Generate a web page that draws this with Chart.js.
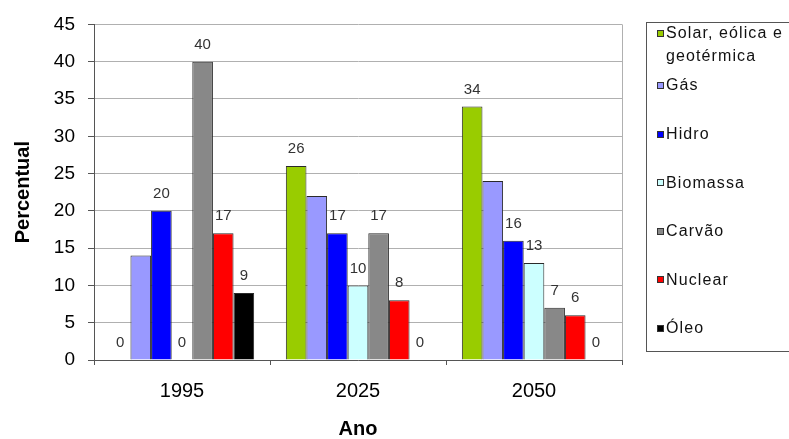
<!DOCTYPE html>
<html lang="pt">
<head>
<meta charset="utf-8">
<title>Percentual por fonte de energia</title>
<script src="https://cdn.jsdelivr.net/npm/chart.js@4/dist/chart.umd.min.js"></script>
<style>
  html, body { margin: 0; padding: 0; background: #fff; }
  #box { width: 789px; height: 439px; position: relative; overflow: hidden; }
</style>
</head>
<body>
<div id="box"><canvas id="grafico"></canvas></div>
<script>
// Anos e participação (%) de cada fonte
const anos = ['1995', '2025', '2050'];
const fontes = ['Solar, eólica e geotérmica', 'Gás', 'Hidro', 'Biomassa', 'Carvão', 'Nuclear', 'Óleo'];
const solar    = [0, 26, 34];
const gas      = [14, 22, 24];
const hidro    = [20, 17, 16];
const biomassa = [0, 10, 13];
const carvao   = [40, 17, 7];
const nuclear  = [17, 8, 6];
const oleo     = [9, 0, 0];
const marcasY  = [0, 5, 10, 15, 20, 25, 30, 35, 40, 45];
// séries sem rótulo de valor sobre as barras
const semRotulo = ['Gás'];

const valores = [solar, gas, hidro, biomassa, carvao, nuclear, oleo];
const cores = ['#99cc00', '#9999ff', '#0000ff', '#ccffff', '#888888', '#ff0000', '#000000'];
const FAMILIA = '"Liberation Sans", Arial, sans-serif';

// Rótulos de valor acima de cada barra
const rotulosValor = {
  id: 'rotulosValor',
  afterDatasetsDraw(chart) {
    const ctx = chart.ctx;
    ctx.save();
    ctx.font = '15px ' + FAMILIA;
    ctx.fillStyle = '#333';
    ctx.textAlign = 'center';
    ctx.textBaseline = 'middle';
    chart.data.datasets.forEach((ds, i) => {
      if (semRotulo.includes(ds.label)) return;
      chart.getDatasetMeta(i).data.forEach((bar, j) => {
        ctx.fillText(String(ds.data[j]), bar.x, bar.y - 17);
      });
    });
    ctx.restore();
  }
};

// Borda direita da área do gráfico e legenda em caixa à direita
const molduraLegenda = {
  id: 'molduraLegenda',
  afterDraw(chart) {
    const ctx = chart.ctx;
    const a = chart.chartArea;
    ctx.save();
    ctx.strokeStyle = '#b0b0b0';
    ctx.lineWidth = 1;
    ctx.beginPath();
    ctx.moveTo(Math.round(a.right) + 0.5, a.top);
    ctx.lineTo(Math.round(a.right) + 0.5, a.bottom);
    ctx.stroke();

    // caixa da legenda
    const bx = a.right + 24;
    ctx.strokeStyle = '#555';
    ctx.strokeRect(bx + 0.5, 22.5, 200, 329);

    ctx.font = '16px ' + FAMILIA;
    if ('letterSpacing' in ctx) ctx.letterSpacing = '1.1px';
    ctx.textBaseline = 'middle';
    ctx.textAlign = 'left';
    const sx = bx + 11, tx = bx + 20;
    const largura = chart.width - tx + 4;
    chart.data.datasets.forEach((ds, i) => {
      // quebra do texto em linhas
      const palavras = ds.label.split(' ');
      const linhas = [];
      let atual = '';
      palavras.forEach(p => {
        const teste = atual ? atual + ' ' + p : p;
        if (ctx.measureText(teste).width > largura && atual) {
          linhas.push(atual);
          atual = p;
        } else {
          atual = teste;
        }
      });
      linhas.push(atual);
      const y = i === 0 ? 34 : 86 + (i - 1) * 48.6;
      ctx.fillStyle = ds.backgroundColor;
      ctx.fillRect(sx, Math.round(y - 4), 7, 7);
      ctx.strokeStyle = '#333';
      ctx.strokeRect(sx + 0.5, Math.round(y - 4) + 0.5, 6, 6);
      ctx.fillStyle = '#111';
      linhas.forEach((l, k) => ctx.fillText(l, tx, y + k * 23));
    });
    ctx.restore();
  }
};

new Chart(document.getElementById('grafico'), {
  type: 'bar',
  data: {
    labels: anos,
    datasets: fontes.map((nome, i) => ({
      label: nome,
      data: valores[i],
      backgroundColor: cores[i],
      borderColor: '#2a2a2a',
      borderWidth: 1,
      categoryPercentage: 0.82,
      barPercentage: 1
    }))
  },
  options: {
    responsive: true,
    maintainAspectRatio: false,
    animation: false,
    layout: { padding: { top: 21, right: 167, left: 0, bottom: 0 } },
    plugins: {
      legend: { display: false },
      tooltip: { enabled: false }
    },
    scales: {
      x: {
        grid: { offset: true, drawOnChartArea: false, drawTicks: true, tickLength: 5, tickColor: '#555' },
        border: { color: '#555', width: 1 },
        ticks: { font: { family: FAMILIA, size: 20 }, color: '#000', padding: 14 },
        title: {
          display: true, text: 'Ano', color: '#000',
          font: { family: FAMILIA, size: 20, weight: 'bold', lineHeight: 1 },
          padding: { top: 0, bottom: 0 }
        },
        afterFit(s) { s.height = 79; }
      },
      y: {
        min: 0, max: 45,
        afterBuildTicks(s) { s.ticks = marcasY.map(v => ({ value: v })); },
        grid: { color: '#b0b0b0', tickLength: 6, tickColor: '#555' },
        border: { color: '#555', width: 1 },
        ticks: { font: { family: FAMILIA, size: 19 }, color: '#000', padding: 13 },
        title: {
          display: true, text: 'Percentual', color: '#000',
          font: { family: FAMILIA, size: 20, weight: 'bold', lineHeight: 1 },
          padding: { top: 13, bottom: 0 }
        },
        afterFit(s) { s.width = 94; }
      }
    }
  },
  plugins: [rotulosValor, molduraLegenda]
});
</script>
</body>
</html>
